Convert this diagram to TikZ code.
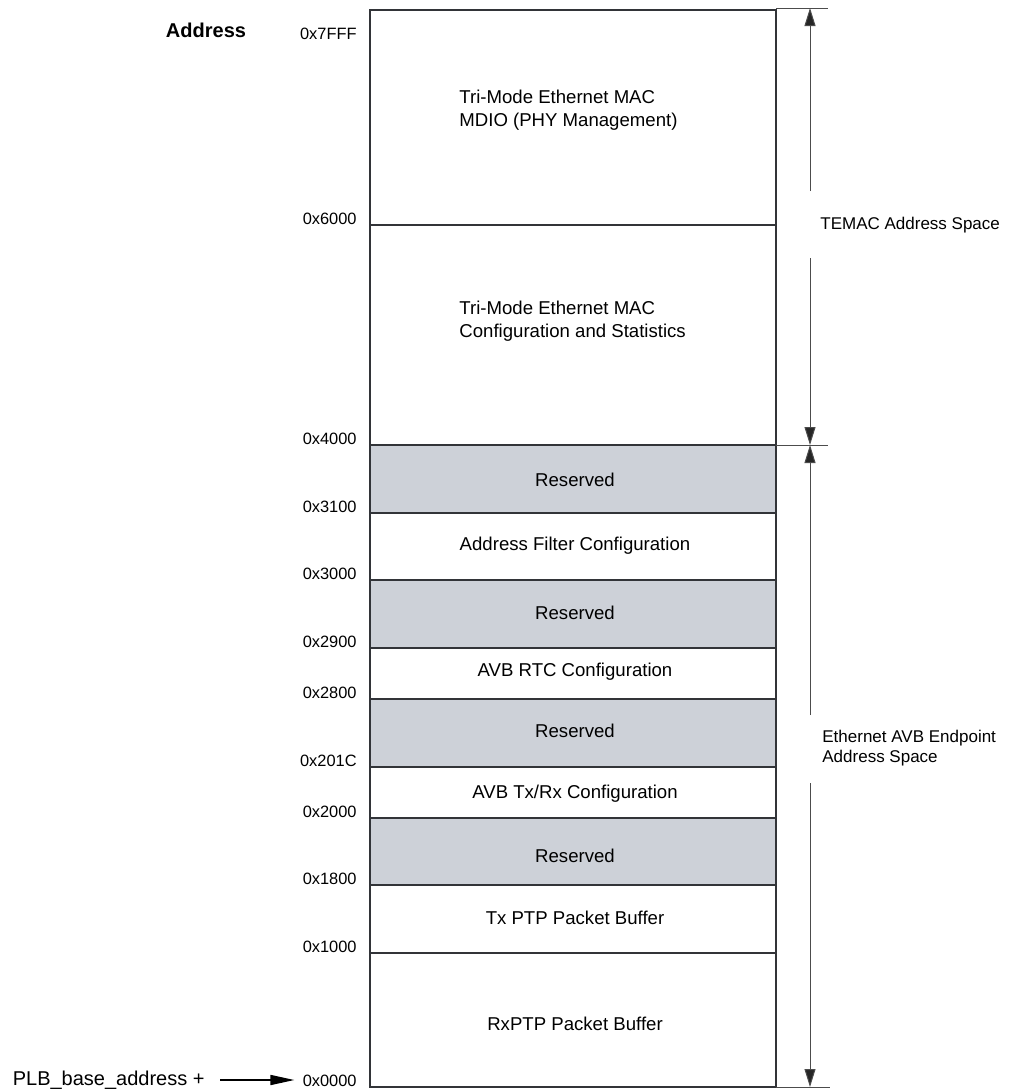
\documentclass[tikz,border=0pt]{standalone}
\usepackage{fontspec}
\setmainfont{Liberation Sans}
\usetikzlibrary{arrows.meta}
\definecolor{resv}{RGB}{205,209,216}
\definecolor{edge}{RGB}{50,52,56}
\tikzset{
  box/.style={draw=edge,line width=1pt},
  addr/.style={anchor=east,inner sep=0pt,font=\fontsize{8.2}{10}\selectfont},
  field/.style={inner sep=0pt,font=\fontsize{9.3}{11.8}\selectfont},
  side/.style={anchor=west,inner sep=0pt,align=left,font=\fontsize{8.5}{10}\selectfont},
  dim/.style={draw=black!70,line width=0.5pt},
  dimtip/.style={dim,-{Triangle[length=9pt,width=5.5pt,fill=black!85]}}
}
\begin{document}
\begin{tikzpicture}[x=0.5pt,y=-0.5pt]
\useasboundingbox (0,0) rectangle (1009,1092);
% reserved areas
\foreach \a/\b in {445/513,580/648,699/767,818/885}
  \fill[resv] (370,\a) rectangle (776,\b);
\draw[box] (370,10) rectangle (776,1087);
\foreach \y/\t in {225/0x6000,445/0x4000,513/0x3100,580/0x3000,648/0x2900,
                   699/0x2800,767/0x201C,818/0x2000,885/0x1800,953/0x1000}
  {\draw[box] (370,\y) -- (776,\y);
   \node[addr] (a\t) at (357,\y-6) {\t};}
\node[addr] (a7FFF) at (357,34) {0x7FFF};
\node[addr] (a0) at (357,1081) {0x0000};
\node[inner sep=0pt,font=\fontsize{10}{12}\selectfont\bfseries] (head) at (206,30) {Address};
% region texts
\node[field,anchor=west,align=left] (mdio) at (459,110) {Tri-Mode Ethernet MAC\\MDIO (PHY Management)};
\node[field,anchor=west,align=left] (conf) at (459,321) {Tri-Mode Ethernet MAC\\Configuration and Statistics};
\node[field] (r1) at (575,480) {Reserved};
\node[field] (filt) at (575,546) {Address Filter Configuration};
\node[field] (r2) at (575,613) {Reserved};
\node[field] (rtc) at (575,672) {AVB RTC Configuration};
\node[field] (r3) at (575,731) {Reserved};
\node[field] (txrx) at (575,794) {AVB Tx/Rx Configuration};
\node[field] (r4) at (575,856) {Reserved};
\node[field] (txbuf) at (575,918) {Tx PTP Packet Buffer};
\node[field] (rxbuf) at (575,1024) {RxPTP Packet Buffer};
% address spaces
\draw[dim] (776,8) -- (828,8) (776,445) -- (828,445) (776,1087) -- (830,1087);
\coordinate (t0) at (810,8);   \coordinate (t1) at (810,191);
\coordinate (t2) at (810,258); \coordinate (t3) at (810,445);
\coordinate (e0) at (810,715); \coordinate (e1) at (810,783);
\coordinate (e2) at (810,1087);
\draw[dimtip] (t1) -- (t0);
\draw[dimtip] (t2) -- (t3);
\draw[dimtip] (e0) -- (t3);
\draw[dimtip] (e1) -- (e2);
\node[side] (temac) at (820,225) {TEMAC Address Space};
\node[side] (avb) at (822,748) {Ethernet AVB Endpoint\\Address Space};
% base address
\node[anchor=east,inner sep=0pt,font=\fontsize{10}{12}\selectfont] (plb) at (205,1080) {PLB\_base\_address +};
\draw[line width=0.8pt,-{Triangle[length=12pt,width=5pt]},shorten <=7.5pt,shorten >=4pt] (plb.east) -- (plb.east-|a0.west);
\end{tikzpicture}
\end{document}
